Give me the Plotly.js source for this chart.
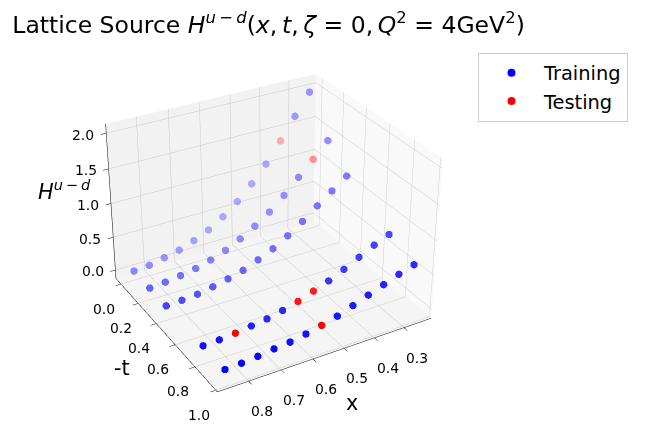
<!DOCTYPE html>
<html><head><meta charset="utf-8">
<script src="https://cdn.plot.ly/plotly-3.0.1.min.js"></script>
<style>html,body{margin:0;padding:0;background:#fff;overflow:hidden;}
#wrap{position:relative;width:645px;height:426px;overflow:hidden;}
#plot{position:absolute;}</style>
</head><body><div id="wrap"><div id="plot"></div></div>
<script>
// ---- data ----
const xValues = [0.85,0.80,0.75,0.70,0.65,0.60,0.55,0.50,0.45,0.40,0.35,0.30,0.25];
const tValues = [0.00,0.18,0.36,0.74,0.95];
const hAtT0 = [0.01,0.03,0.08,0.13,0.21,0.31,0.45,0.62,0.83,1.07,1.36,1.67,1.97];
const hAtT1 = [0.01,0.03,0.06,0.10,0.16,0.24,0.35,0.48,0.63,0.82,1.03,1.24,1.46];
const hAtT2 = [0.01,0.02,0.04,0.08,0.13,0.19,0.28,0.38,0.51,0.66,0.83,0.99,1.15];
const hAtT3 = [0.01,0.02,0.04,0.07,0.10,0.15,0.21,0.29,0.37,0.47,0.58,0.69,0.78];
const hAtT4 = [0.01,0.02,0.04,0.07,0.09,0.13,0.18,0.24,0.32,0.40,0.48,0.56,0.63];
const hRows = [hAtT0,hAtT1,hAtT2,hAtT3,hAtT4];
// testing points as [t index, x index]
const testPoints = [[4,6],[3,2],[3,6],[3,7],[1,11],[0,10]];
const xTicks = [0.3,0.4,0.5,0.6,0.7,0.8];
const tTicks = [0.0,0.2,0.4,0.6,0.8,1.0];
const hTicks = [0.0,0.5,1.0,1.5,2.0];

// ---- view / styling ----
const xRange = [0.206,0.894], tRange = [-0.06,1.015], hRange = [-0.133,2.128];
const azim = 60*Math.PI/180, elev = 30*Math.PI/180;
const eyeDir = [Math.cos(elev)*Math.cos(azim), Math.cos(elev)*Math.sin(azim), Math.sin(elev)];
const eyeLen = 6.6;
const aspect = {x:1.188, y:1.105, z:0.88};

// oversized figure so that a distant (mild-perspective) camera still fills the page
const offL = 300, offT = 345, half = 563, W = 1140, H = 1136;
const cx = 270.25, cy = 222.45;               // page position of the scene centre
const plotDiv = document.getElementById('plot');
plotDiv.style.left = (-offL)+'px'; plotDiv.style.top = (-offT)+'px';
const px = v => (v+offL)/W;                   // page x -> paper x
const py = v => 1-(v+offT)/H;                 // page y -> paper y

function isTest(i,j){ return testPoints.some(p=>p[0]===i && p[1]===j); }
function depth(x,t,h){
  const X=aspect.x*(x-xRange[0])/(xRange[1]-xRange[0]);
  const Y=aspect.y*(t-tRange[0])/(tRange[1]-tRange[0]);
  const Z=aspect.z*(h-hRange[0])/(hRange[1]-hRange[0]);
  return eyeDir[0]*X+eyeDir[1]*Y+eyeDir[2]*Z;
}
function build(test, rgb){
  const xs=[],ts=[],hs=[];
  for(let i=hRows.length-1;i>=0;i--){
    for(let j=0;j<xValues.length;j++){
      if(isTest(i,j)!==test) continue;
      xs.push(xValues[j]); ts.push(tValues[i]); hs.push(hRows[i][j]);
    }
  }
  const d = xs.map((x,k)=>depth(x,ts[k],hs[k]));
  const dmin=Math.min(...d), dmax=Math.max(...d);
  const cols = d.map(v=>{const f=(dmax-v)/(dmax-dmin||1); const a=1-0.7*Math.pow(f,1.4); return 'rgba('+rgb+','+a.toFixed(3)+')';});
  return {xs,ts,hs,cols};
}
const tr = build(false,'0,0,255');
const te = build(true,'255,0,0');

const traces = [
  {type:'scatter3d', mode:'markers', name:'Training', x:tr.xs, y:tr.ts, z:tr.hs, showlegend:false,
   marker:{size:4.3, color:tr.cols}, hoverinfo:'skip'},
  {type:'scatter3d', mode:'markers', name:'Testing', x:te.xs, y:te.ts, z:te.hs, showlegend:false,
   marker:{size:4.3, color:te.cols}, hoverinfo:'skip'},
  // legend keys
  {type:'scatter', mode:'markers', name:'Training', x:[null], y:[null], marker:{size:8, color:'blue'}, hoverinfo:'skip'},
  {type:'scatter', mode:'markers', name:'Testing', x:[null], y:[null], marker:{size:8, color:'red'}, hoverinfo:'skip'}
];

function axis(range, vals, bg){
  return {range:range, tickmode:'array', tickvals:vals, showticklabels:false,
    showbackground:true, backgroundcolor:bg, gridcolor:'#c8c8c8', gridwidth:1,
    showline:true, linecolor:'#000', linewidth:1, ticks:'outside', ticklen:5, tickcolor:'#000',
    zeroline:false, showspikes:false, title:{text:''}};
}
const tickFont = {family:'DejaVu Sans', size:13.9, color:'#000'};
const sceneAnn = [];
xTicks.forEach(v=>sceneAnn.push({x:v, y:tRange[1], z:hRange[0], text:v.toFixed(1), showarrow:false,
  xanchor:'center', yanchor:'middle', xshift:13, yshift:-29.5, font:tickFont}));
tTicks.forEach(v=>sceneAnn.push({x:xRange[1], y:v, z:hRange[0], text:v.toFixed(1), showarrow:false,
  xanchor:'center', yanchor:'middle', xshift:-17, yshift:-24, font:tickFont}));
hTicks.forEach(v=>sceneAnn.push({x:xRange[1], y:tRange[0], z:v, text:v.toFixed(1), showarrow:false,
  xanchor:'center', yanchor:'middle', xshift:-23, yshift:-1, font:tickFont}));

const labFont = {family:'DejaVu Sans', size:20.8, color:'#000'};
const layout = {
  width:W, height:H, margin:{l:0,r:0,t:0,b:0}, paper_bgcolor:'#fff', plot_bgcolor:'rgba(0,0,0,0)',
  xaxis:{visible:false, domain:[0,0.005]}, yaxis:{visible:false, domain:[0,0.005]},
  title:{text:'Lattice Source <i>H</i><sup><i>u</i>\u2009\u2212\u2009<i>d</i></sup>(<i>x</i>,\u2009<i>t</i>,\u2009<i>\u03b6</i> = 0,\u2009<i>Q</i><sup>2</sup> = 4GeV<sup>2</sup>)',
    font:{family:'DejaVu Sans', size:23.5, color:'#000'}, x:px(12.3), xanchor:'left', y:py(25), yanchor:'middle'},
  showlegend:true,
  legend:{x:px(478), y:py(52.7), xanchor:'left', yanchor:'top', bordercolor:'#cccccc', borderwidth:1,
    bgcolor:'#fff', font:{family:'DejaVu Sans', size:19.4, color:'#000'}, itemwidth:55},
  scene:{domain:{x:[px(cx-half), px(cx+half)], y:[py(cy+half), py(cy-half)]},
    xaxis:axis(xRange,xTicks,'#f9f9f9'), yaxis:axis(tRange,tTicks,'#f2f2f2'), zaxis:axis(hRange,hTicks,'#f5f5f5'),
    aspectmode:'manual', aspectratio:aspect,
    camera:{eye:{x:eyeLen*eyeDir[0], y:eyeLen*eyeDir[1], z:eyeLen*eyeDir[2]}, up:{x:0,y:0,z:1}, center:{x:0,y:0,z:0},
      projection:{type:'perspective'}},
    annotations:sceneAnn},
  annotations:[
    {text:'x', xref:'paper', yref:'paper', x:px(352), y:py(403), showarrow:false, font:labFont},
    {text:'-t', xref:'paper', yref:'paper', x:px(122), y:py(368), showarrow:false, font:labFont},
    {text:'<i>H</i><sup><i>u</i>\u2009\u2212\u2009<i>d</i></sup>', xref:'paper', yref:'paper', x:px(36), y:py(190), showarrow:false, font:labFont}
  ]
};
Plotly.newPlot('plot', traces, layout, {displayModeBar:false});
</script></body></html>
